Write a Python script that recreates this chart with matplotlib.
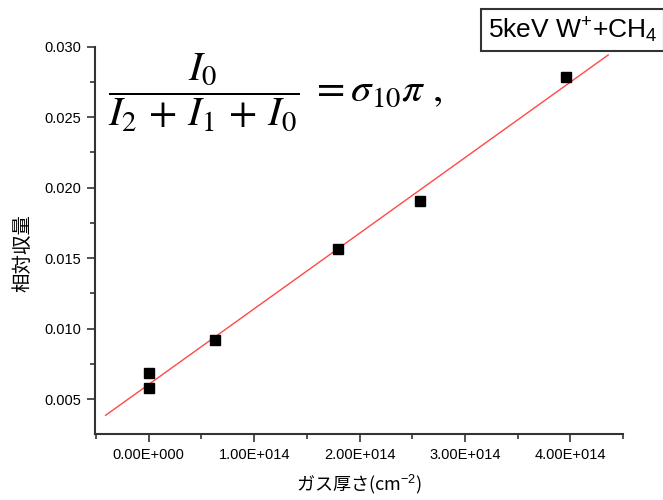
import numpy as np
import matplotlib
matplotlib.use("Agg")
import matplotlib.pyplot as plt
from matplotlib.ticker import FuncFormatter, MultipleLocator

plt.rcParams['font.family'] = ['Liberation Sans', 'Noto Sans CJK JP', 'DejaVu Sans']
plt.rcParams['mathtext.fontset'] = 'custom'
plt.rcParams['mathtext.rm'] = 'Liberation Sans'
plt.rcParams['mathtext.it'] = 'Liberation Sans:italic'

# gas thickness (cm^-2) and relative yield
thickness = [0.0, 0.0, 0.633e14, 1.80e14, 2.57e14, 3.96e14]
yield_rel = [0.00682, 0.00576, 0.00918, 0.01566, 0.01906, 0.02782]
fit_range = [-0.41e14, 4.36e14]

x_ticks = [0, 1e14, 2e14, 3e14, 4e14]
y_ticks = [0.005, 0.010, 0.015, 0.020, 0.025, 0.030]

fig = plt.figure(figsize=(6.63, 5.0), dpi=100)
ax = fig.add_axes([0.1433, 0.132, 0.7964, 0.7746])

slope, icpt = np.polyfit(thickness, yield_rel, 1)
xf = np.array(fit_range)
ax.plot(xf, slope * xf + icpt, color='#ff4848', lw=1.0)
ax.plot(thickness, yield_rel, 's', color='black', ms=7, zorder=3)

ax.set_xlim(-0.51e14, 4.5e14)
ax.set_ylim(0.00252, 0.030)
ax.set_xticks(x_ticks)
ax.set_yticks(y_ticks)
ax.xaxis.set_minor_locator(MultipleLocator(0.5e14))
ax.yaxis.set_minor_locator(MultipleLocator(0.0025))


def xfmt(v, pos):
    if v == 0:
        return "0.00E+000"
    return "%.2fE+014" % (v / 1e14)


ax.xaxis.set_major_formatter(FuncFormatter(xfmt))
ax.yaxis.set_major_formatter(FuncFormatter(lambda v, p: "%.3f" % v))

for s in ['top', 'right']:
    ax.spines[s].set_visible(False)
for s in ['left', 'bottom']:
    ax.spines[s].set_linewidth(1.5)
    ax.spines[s].set_color('#333333')
ax.tick_params(which='major', direction='out', length=6, width=1.2, color='#333333',
               labelsize=10.5, pad=4)
ax.tick_params(which='minor', direction='out', length=3.5, width=1.2, color='#333333')

ax.set_ylabel("相対収量", fontsize=14, family=['Noto Sans CJK JP', 'DejaVu Sans'])
ax.yaxis.set_label_coords(-0.117, 0.467)
ax.set_xlabel("ガス厚さ(cm$^{-2}$)", fontsize=13, family=['Noto Sans CJK JP', 'DejaVu Sans'],
              labelpad=8)

fig.text(108 / 663, 1 - 92 / 500,
         r"$\dfrac{I_0}{I_2\,+\,I_1\,+\,I_0}\;=\sigma_{10}\pi\ ,$",
         fontsize=29.5, ha='left', va='center', math_fontfamily='stix')

fig.text(488 / 663, 1 - 30 / 500, "5keV W$^{+}$+CH$_{4}$", fontsize=19,
         ha='left', va='center',
         bbox=dict(boxstyle='square,pad=0.25', fc='white', ec='#333333', lw=1.5))

fig.savefig("out.png", dpi=100)
